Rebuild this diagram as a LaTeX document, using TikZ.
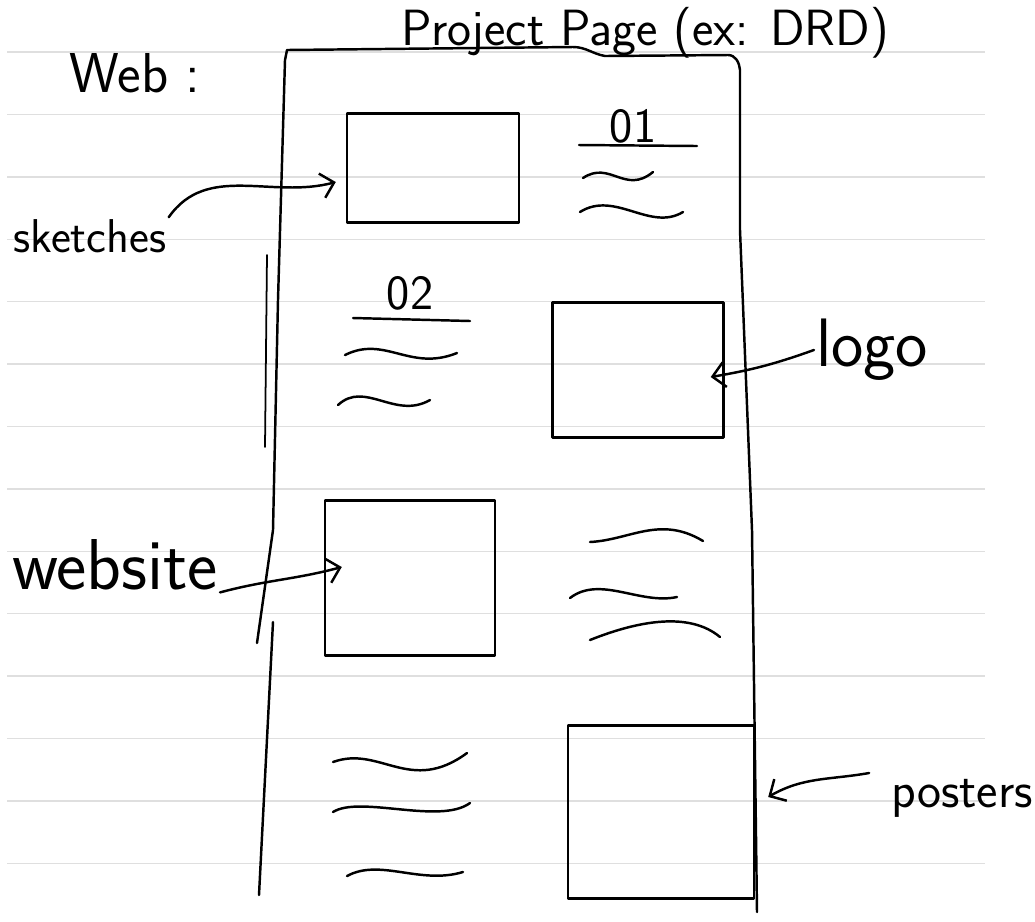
\documentclass[tikz,border=0pt]{standalone}
\usepackage{tikz}
\usetikzlibrary{arrows.meta}

\begin{document}
\begin{tikzpicture}[
    x = 0.02cm, y = -0.02cm, % one unit = one pixel of the scan
    pen/.style = {line width=1.4pt, line cap=round, line join=round},
    ruling/.style = {gray!25, line width=0.8pt},
    hand/.style = {font=\sffamily\fontsize{#1}{#1}\selectfont, inner sep=1pt},
    box/.style = {draw, pen, inner sep=0pt},
    pointer/.style = {pen, -{Straight Barb[length=2.5mm,width=5mm]}}
    ]

    \useasboundingbox (0,0) rectangle (1035,921);

    % notebook paper
    \foreach \k in {0,...,13}
        \draw[ruling] (7,{52+62.4*\k}) -- (985,{52+62.4*\k});

    % the page
    \draw[pen] (257,643) -- (273,530) -- (278,300) -- (285,60) -- (287,50)
        -- (573,47) to[out=0,in=170] (605,56) -- (728,55)
        to[out=0,in=95] (740,70) -- (740,230) -- (752,530) -- (757,912);
    \draw[pen] (273,622) -- (259,895);
    \draw[pen, line width=1pt] (267,255) -- (265,447);

    % boxes
    \node[box, minimum width=3.44cm, minimum height=2.18cm] (sketchbox) at (433,168) {};
    \node[box, minimum width=3.42cm, minimum height=2.70cm] (logobox) at (638,370) {};
    \node[box, minimum width=3.40cm, minimum height=3.10cm] (webbox) at (410,578) {};
    \node[box, minimum width=3.72cm, minimum height=3.46cm] (posterbox) at (661,812) {};

    % texts
    \node[hand=29] (title) at (645,33) {Project Page (ex: DRD)};
    \node[hand=32] (web) at (135,73) {Web :};
    \node[hand=27] (sketches) at (90,236) {sketches};
    \node[hand=39] (logo) at (872,350) {logo};
    \node[hand=41] (website) at (115,565) {website};
    \node[hand=29] (posters) at (962,798) {posters};
    \node[hand=28] (num01) at (633,126) {01};
    \node[hand=28] (num02) at (410,293) {02};

    % headings and scribbled lines
    \draw[pen] (579,145) -- (697,146);
    \draw[pen] (583,178) .. controls (610,160) and (625,195) .. (653,172);
    \draw[pen] (580,212) .. controls (615,190) and (650,232) .. (683,212);
    \draw[pen] (353,318) -- (470,321);
    \draw[pen] (345,355) .. controls (385,335) and (410,372) .. (457,353);
    \draw[pen] (338,405) .. controls (365,380) and (395,420) .. (430,400);
    \draw[pen] (590,542) .. controls (630,540) and (660,515) .. (703,541);
    \draw[pen] (570,598) .. controls (600,575) and (640,605) .. (677,597);
    \draw[pen] (590,640) .. controls (640,620) and (690,612) .. (720,637);
    \draw[pen] (333,762) .. controls (380,745) and (410,795) .. (467,753);
    \draw[pen] (333,812) .. controls (360,795) and (440,825) .. (470,803);
    \draw[pen] (347,876) .. controls (380,858) and (420,885) .. (463,872);

    % pointers
    \draw[pointer] (sketches.north east) to[out=55,in=195] ([shift={(-10,14)}]sketchbox.west);
    \draw[pointer] (logo.west) to[bend left=5] ([shift={(-14,7)}]logobox.east);
    \draw[pointer] (website.south east) to[out=15,in=195] ([shift={(18,-11)}]webbox.west);
    \draw[pointer] ([shift={(-20,-25)}]posters.west) to[out=190,in=30] ([shift={(13,-15)}]posterbox.east);
\end{tikzpicture}
\end{document}
